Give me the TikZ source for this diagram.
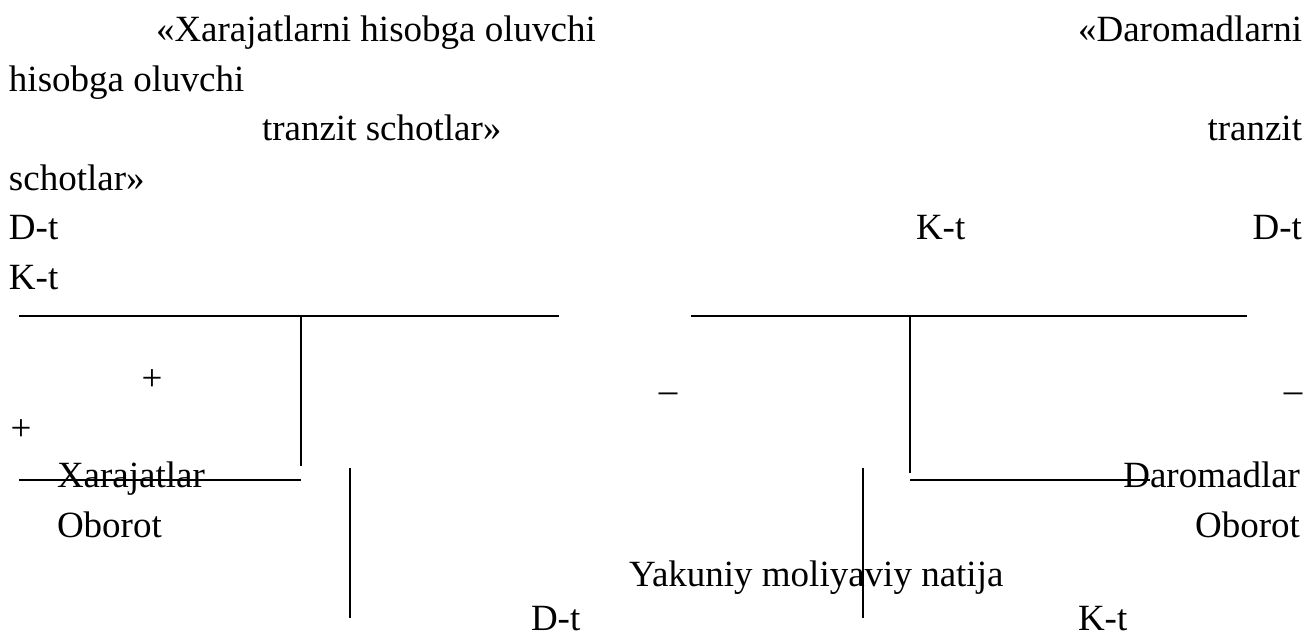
\documentclass[tikz,border=0pt]{standalone}
\usepackage{fontspec}
\setmainfont{Liberation Serif}
\begin{document}
\begin{tikzpicture}[x=1pt,y=-1pt,
  txt/.style={inner sep=0pt,outer sep=0pt,anchor=base west,font=\fontsize{37}{44}\selectfont},
  txtr/.style={txt,anchor=base east},
  txtc/.style={txt,anchor=base},
  rule/.style={line width=1.6pt,black}]
\useasboundingbox (0,0) rectangle (1308,636);
% header texts
\node[txt] (h1) at (156,42) {«Xarajatlarni hisobga oluvchi};
\node[txtr] (h2) at (1302,42) {«Daromadlarni};
\node[txt] (h3) at (9,91.5) {hisobga oluvchi};
\node[txt] (h4) at (262,141) {tranzit schotlar»};
\node[txtr] (h5) at (1302,141) {tranzit};
\node[txt] (h6) at (9,190.5) {schotlar»};
\node[txt] (d1) at (9,240) {D-t};
\node[txt] (k1) at (916,240) {K-t};
\node[txtr] (d2) at (1302,240) {D-t};
\node[txt] (k2) at (9,289.5) {K-t};
% signs
\node[txtc] (p1) at (152,390) {+};
\node[txtc] (p2) at (21,440) {+};
\node[txtc] (m1) at (668,402) {–};
\node[txtc] (m2) at (1293,402) {–};
% lower texts
\node[txt] (xar) at (57,487) {Xarajatlar};
\node[txtr] (dar) at (1300,487) {Daromadlar};
\node[txt] (ob1) at (57,537) {Oborot};
\node[txtr] (ob2) at (1300,537) {Oborot};
\node[txt] (yak) at (629,586) {Yakuniy moliyaviy natija};
\node[txt] (d3) at (531,630) {D-t};
\node[txt] (k3) at (1078,630) {K-t};
% T-account lines
\coordinate (a1) at (19,316);
\coordinate (a2) at (559,316);
\coordinate (a3) at (301,316);
\coordinate (a4) at (301,466);
\coordinate (a5) at (19,480);
\coordinate (a6) at (301,480);
\coordinate (b1) at (350,468);
\coordinate (b2) at (350,618);
\coordinate (c1) at (691,316);
\coordinate (c2) at (1247,316);
\coordinate (c3) at (910,316);
\coordinate (c4) at (910,473);
\coordinate (c5) at (910,480);
\coordinate (c6) at (1150,480);
\coordinate (e1) at (863,468);
\coordinate (e2) at (863,618);
\draw[rule] (a1) -- (a2);
\draw[rule] (a3) -- (a4);
\draw[rule] (a5) -- (a6);
\draw[rule] (b1) -- (b2);
\draw[rule] (c1) -- (c2);
\draw[rule] (c3) -- (c4);
\draw[rule] (c5) -- (c6);
\draw[rule] (e1) -- (e2);
\end{tikzpicture}
\end{document}
